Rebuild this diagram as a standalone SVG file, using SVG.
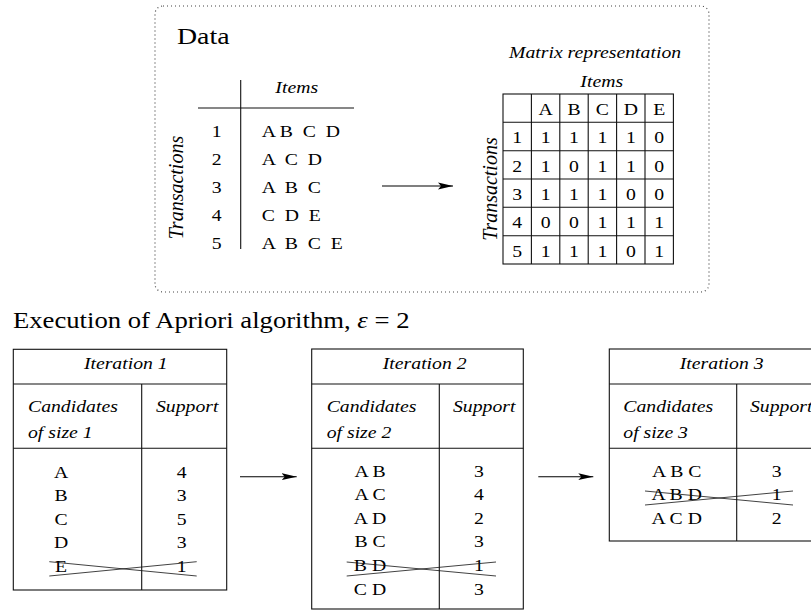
<svg xmlns="http://www.w3.org/2000/svg" width="811" height="611" viewBox="0 0 811 611">
<defs>
<style>
.t{font-family:"Liberation Serif","Times New Roman",serif;font-size:17px;fill:#000}
.i{font-style:italic}
.m{text-anchor:middle}
.ln{stroke:#111;stroke-width:1.1;fill:none}
.x{stroke:#111;stroke-width:0.8;fill:none}
.cn{stroke:#000;stroke-width:1.1;fill:none;marker-end:url(#ah)}
</style>
<marker id="ah" markerUnits="userSpaceOnUse" markerWidth="16" markerHeight="8" refX="15" refY="4" orient="auto">
<path d="M15,4 L0,0.6 L3,4 L0,7.4 Z" fill="#000"/>
</marker>
</defs>
<rect width="811" height="611" fill="#fff"/>

<g id="data-panel">
<rect x="155" y="6" width="554" height="286" rx="8" fill="none" stroke="#444" stroke-width="1.2" stroke-dasharray="1 3"/>
<text class="t" font-size="24" style="font-size:24px" transform="matrix(1.16 0 0 1 177 44.3)">Data</text>
</g>

<g id="data-table">
<line class="ln" x1="240.7" y1="80" x2="240.7" y2="249"/>
<line class="ln" x1="198" y1="108" x2="354" y2="108"/>
<text class="t i m" transform="matrix(1.16 0 0 1 296.7 93.3)">Items</text>
<text class="t i m" style="font-size:20px" transform="translate(183.3 187.5) rotate(-90)">Transactions</text>
<text class="t m" transform="matrix(1.16 0 0 1 216.7 136.7)">1</text>
<text class="t m" transform="matrix(1.16 0 0 1 216.7 164.8)">2</text>
<text class="t m" transform="matrix(1.16 0 0 1 216.7 192.9)">3</text>
<text class="t m" transform="matrix(1.16 0 0 1 216.7 221)">4</text>
<text class="t m" transform="matrix(1.16 0 0 1 216.7 249.1)">5</text>
<text class="t" xml:space="preserve" transform="matrix(1.16 0 0 1 261.7 136.7)">A B  C  D</text>
<text class="t" xml:space="preserve" transform="matrix(1.16 0 0 1 261.7 164.8)">A  C  D</text>
<text class="t" xml:space="preserve" transform="matrix(1.16 0 0 1 261.7 192.9)">A  B  C</text>
<text class="t" xml:space="preserve" transform="matrix(1.16 0 0 1 261.7 221)">C  D  E</text>
<text class="t" xml:space="preserve" transform="matrix(1.16 0 0 1 261.7 249.1)">A  B  C  E</text>
</g>

<g id="matrix">
<text class="t i" transform="matrix(1.16 0 0 1 509 58)">Matrix representation</text>
<text class="t i m" transform="matrix(1.16 0 0 1 601.7 86.7)">Items</text>
<text class="t i m" style="font-size:20px" transform="translate(496.7 189) rotate(-90)">Transactions</text>
<rect class="ln" x="503" y="94" width="170.4" height="170" stroke-width="1.2"/>
<path class="ln" stroke-width="1.2" d="M531.4,94V264M559.8,94V264M588.2,94V264M616.6,94V264M645,94V264M503,122.3H673.4M503,150.7H673.4M503,179H673.4M503,207.3H673.4M503,235.7H673.4"/>
<text class="t m" transform="matrix(1.16 0 0 1 545.6 115)">A</text>
<text class="t m" transform="matrix(1.16 0 0 1 574 115)">B</text>
<text class="t m" transform="matrix(1.16 0 0 1 602.4 115)">C</text>
<text class="t m" transform="matrix(1.16 0 0 1 630.8 115)">D</text>
<text class="t m" transform="matrix(1.16 0 0 1 659.2 115)">E</text>
<text class="t m" transform="matrix(1.16 0 0 1 517.2 143.3)">1</text>
<text class="t m" transform="matrix(1.16 0 0 1 545.6 143.3)">1</text>
<text class="t m" transform="matrix(1.16 0 0 1 574 143.3)">1</text>
<text class="t m" transform="matrix(1.16 0 0 1 602.4 143.3)">1</text>
<text class="t m" transform="matrix(1.16 0 0 1 630.8 143.3)">1</text>
<text class="t m" transform="matrix(1.16 0 0 1 659.2 143.3)">0</text>
<text class="t m" transform="matrix(1.16 0 0 1 517.2 171.7)">2</text>
<text class="t m" transform="matrix(1.16 0 0 1 545.6 171.7)">1</text>
<text class="t m" transform="matrix(1.16 0 0 1 574 171.7)">0</text>
<text class="t m" transform="matrix(1.16 0 0 1 602.4 171.7)">1</text>
<text class="t m" transform="matrix(1.16 0 0 1 630.8 171.7)">1</text>
<text class="t m" transform="matrix(1.16 0 0 1 659.2 171.7)">0</text>
<text class="t m" transform="matrix(1.16 0 0 1 517.2 200)">3</text>
<text class="t m" transform="matrix(1.16 0 0 1 545.6 200)">1</text>
<text class="t m" transform="matrix(1.16 0 0 1 574 200)">1</text>
<text class="t m" transform="matrix(1.16 0 0 1 602.4 200)">1</text>
<text class="t m" transform="matrix(1.16 0 0 1 630.8 200)">0</text>
<text class="t m" transform="matrix(1.16 0 0 1 659.2 200)">0</text>
<text class="t m" transform="matrix(1.16 0 0 1 517.2 228.3)">4</text>
<text class="t m" transform="matrix(1.16 0 0 1 545.6 228.3)">0</text>
<text class="t m" transform="matrix(1.16 0 0 1 574 228.3)">0</text>
<text class="t m" transform="matrix(1.16 0 0 1 602.4 228.3)">1</text>
<text class="t m" transform="matrix(1.16 0 0 1 630.8 228.3)">1</text>
<text class="t m" transform="matrix(1.16 0 0 1 659.2 228.3)">1</text>
<text class="t m" transform="matrix(1.16 0 0 1 517.2 256.7)">5</text>
<text class="t m" transform="matrix(1.16 0 0 1 545.6 256.7)">1</text>
<text class="t m" transform="matrix(1.16 0 0 1 574 256.7)">1</text>
<text class="t m" transform="matrix(1.16 0 0 1 602.4 256.7)">1</text>
<text class="t m" transform="matrix(1.16 0 0 1 630.8 256.7)">0</text>
<text class="t m" transform="matrix(1.16 0 0 1 659.2 256.7)">1</text>
</g>

<g id="title">
<text class="t" style="font-size:23px" transform="matrix(1.16 0 0 1 13 328)">Execution of Apriori algorithm, <tspan class="i">ε</tspan> = 2</text>
</g>

<g id="iteration1">
<rect class="ln" x="13.3" y="349.3" width="213.4" height="240.7"/>
<path class="ln" d="M13.3,384H226.7M13.3,448.3H226.7M141.7,384V590"/>
<text class="t i m" transform="matrix(1.16 0 0 1 125.8 369)">Iteration 1</text>
<text class="t i" transform="matrix(1.16 0 0 1 28 411.7)">Candidates</text>
<text class="t i" transform="matrix(1.16 0 0 1 28 438.3)">of size 1</text>
<text class="t i" transform="matrix(1.16 0 0 1 156 411.7)">Support</text>
<text class="t m" transform="matrix(1.16 0 0 1 61 478)">A</text>
<text class="t m" transform="matrix(1.16 0 0 1 61 501.4)">B</text>
<text class="t m" transform="matrix(1.16 0 0 1 61 524.8)">C</text>
<text class="t m" transform="matrix(1.16 0 0 1 61 548.2)">D</text>
<text class="t m" transform="matrix(1.16 0 0 1 61 571.6)">E</text>
<text class="t m" transform="matrix(1.16 0 0 1 181.7 478)">4</text>
<text class="t m" transform="matrix(1.16 0 0 1 181.7 501.4)">3</text>
<text class="t m" transform="matrix(1.16 0 0 1 181.7 524.8)">5</text>
<text class="t m" transform="matrix(1.16 0 0 1 181.7 548.2)">3</text>
<text class="t m" transform="matrix(1.16 0 0 1 181.7 571.6)">1</text>
<path class="x" d="M49.3,561.7L196.7,576M49.3,576L196.7,561.7"/>
</g>

<g id="iteration2">
<rect class="ln" x="311.7" y="349" width="211.6" height="260"/>
<path class="ln" d="M311.7,384H523.3M311.7,448.3H523.3M439.3,384V609"/>
<text class="t i m" transform="matrix(1.16 0 0 1 424.7 369)">Iteration 2</text>
<text class="t i" transform="matrix(1.16 0 0 1 326.7 411.7)">Candidates</text>
<text class="t i" transform="matrix(1.16 0 0 1 326.7 438.3)">of size 2</text>
<text class="t i" transform="matrix(1.16 0 0 1 453 411.7)">Support</text>
<text class="t m" transform="matrix(1.16 0 0 1 370 477)">A B</text>
<text class="t m" transform="matrix(1.16 0 0 1 370 500.4)">A C</text>
<text class="t m" transform="matrix(1.16 0 0 1 370 523.8)">A D</text>
<text class="t m" transform="matrix(1.16 0 0 1 370 547.2)">B C</text>
<text class="t m" transform="matrix(1.16 0 0 1 370 570.6)">B D</text>
<text class="t m" transform="matrix(1.16 0 0 1 370 595)">C D</text>
<text class="t m" transform="matrix(1.16 0 0 1 479 477)">3</text>
<text class="t m" transform="matrix(1.16 0 0 1 479 500.4)">4</text>
<text class="t m" transform="matrix(1.16 0 0 1 479 523.8)">2</text>
<text class="t m" transform="matrix(1.16 0 0 1 479 547.2)">3</text>
<text class="t m" transform="matrix(1.16 0 0 1 479 570.6)">1</text>
<text class="t m" transform="matrix(1.16 0 0 1 479 595)">3</text>
<path class="x" d="M346.7,562L496,576M346.7,576L496,562"/>
</g>

<g id="iteration3">
<rect class="ln" x="609.3" y="349" width="213.4" height="192"/>
<path class="ln" d="M609.3,384H822.7M609.3,448.3H822.7M736.7,384V541"/>
<text class="t i m" transform="matrix(1.16 0 0 1 721.7 369)">Iteration 3</text>
<text class="t i" transform="matrix(1.16 0 0 1 623.3 411.7)">Candidates</text>
<text class="t i" transform="matrix(1.16 0 0 1 623.3 438.3)">of size 3</text>
<text class="t i" transform="matrix(1.16 0 0 1 750 411.7)">Support</text>
<text class="t m" transform="matrix(1.16 0 0 1 676.7 477)">A B C</text>
<text class="t m" transform="matrix(1.16 0 0 1 676.7 500.4)">A B D</text>
<text class="t m" transform="matrix(1.16 0 0 1 676.7 523.8)">A C D</text>
<text class="t m" transform="matrix(1.16 0 0 1 776.7 477)">3</text>
<text class="t m" transform="matrix(1.16 0 0 1 776.7 500.4)">1</text>
<text class="t m" transform="matrix(1.16 0 0 1 776.7 523.8)">2</text>
<path class="x" d="M645,491L793,505M645,505L793,491"/>
</g>

<g id="connectors">
<line class="cn" x1="382" y1="186" x2="453" y2="186"/>
<line class="cn" x1="240" y1="476.7" x2="296.7" y2="476.7"/>
<line class="cn" x1="538.3" y1="476.7" x2="593.3" y2="476.7"/>
</g>
</svg>
